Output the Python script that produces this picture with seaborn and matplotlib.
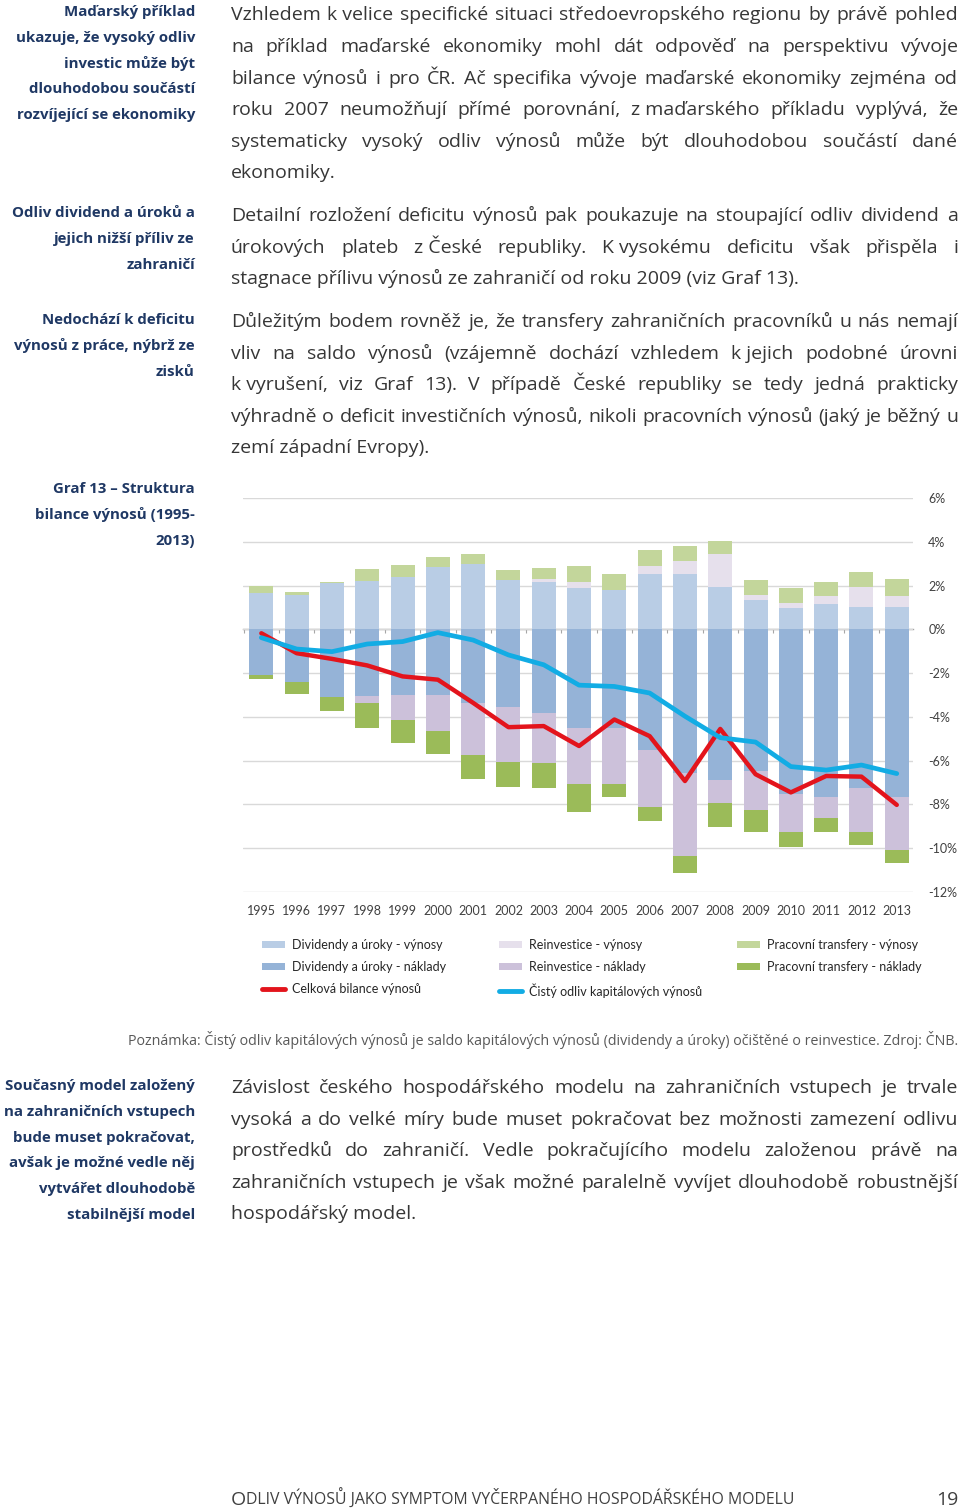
import numpy as np
import matplotlib
matplotlib.use("Agg")
import matplotlib.pyplot as plt
import seaborn as sns
from matplotlib.patches import Patch
from matplotlib.lines import Line2D

# ---- data (% of GDP) ----
years = [str(y) for y in range(1995, 2014)]
div_income = [1.66, 1.55, 2.12, 2.21, 2.41, 2.85, 3.00, 2.24, 2.16, 1.91,
              1.79, 2.53, 2.53, 1.94, 1.36, 0.98, 1.18, 1.03, 1.03]
reinv_income = [0, 0, 0, 0, 0, 0, 0, 0, 0.14, 0.25,
                0, 0.35, 0.59, 1.48, 0.20, 0.23, 0.33, 0.91, 0.48]
labor_income = [0.34, 0.15, 0.06, 0.56, 0.51, 0.47, 0.44, 0.46, 0.50, 0.72,
                0.72, 0.76, 0.67, 0.61, 0.71, 0.70, 0.64, 0.66, 0.79]
div_cost = [-2.08, -2.41, -3.09, -3.06, -3.02, -3.02, -3.36, -3.55, -3.82, -4.50,
            -4.50, -5.52, -6.55, -6.88, -6.47, -7.50, -7.64, -7.23, -7.64]
reinv_cost = [0, 0, 0, -0.30, -1.10, -1.63, -2.40, -2.50, -2.27, -2.55,
              -2.55, -2.59, -3.79, -1.07, -1.79, -1.74, -1.00, -2.04, -2.42]
labor_cost = [-0.19, -0.53, -0.62, -1.17, -1.06, -1.03, -1.09, -1.15, -1.17, -1.28,
              -0.60, -0.66, -0.78, -1.10, -0.98, -0.71, -0.60, -0.58, -0.61]
total_balance = [-0.18, -1.09, -1.35, -1.65, -2.15, -2.30, -3.36, -4.47, -4.42, -5.33,
                 -4.12, -4.88, -6.93, -4.55, -6.62, -7.45, -6.70, -6.73, -8.02]
net_capital = [-0.38, -0.90, -1.02, -0.67, -0.56, -0.15, -0.49, -1.17, -1.62, -2.55,
               -2.61, -2.91, -3.97, -4.95, -5.15, -6.27, -6.43, -6.20, -6.59]
y_ticks = [6, 4, 2, 0, -2, -4, -6, -8, -10, -12]

labels = ["Dividendy a úroky - výnosy", "Dividendy a úroky - náklady",
          "Reinvestice - výnosy", "Reinvestice - náklady",
          "Pracovní transfery - výnosy", "Pracovní transfery - náklady",
          "Celková bilance výnosů", "Čistý odliv kapitálových výnosů"]
colors = ["#B9CDE5", "#95B3D7", "#E6E0EC", "#CCC1DA", "#C3D69B", "#9BBB59",
          "#E3141C", "#12ACE4"]

# ---- page text ----
side_blocks = [
    (["Maďarský příklad", "ukazuje, že vysoký odliv", "investic může být",
      "dlouhodobou součástí", "rozvíjející se ekonomiky"], 16),
    (["Odliv dividend a úroků a", "jejich nižší příliv ze", "zahraničí"], 217),
    (["Nedochází k deficitu", "výnosů z práce, nýbrž ze", "zisků"], 324),
    (["Graf 13 – Struktura", "bilance výnosů (1995-", "2013)"], 493),
    (["Současný model založený", "na zahraničních vstupech", "bude muset pokračovat,",
      "avšak je možné vedle něj", "vytvářet dlouhodobě", "stabilnější model"], 1090),
]
body_blocks = [
    (["Vzhledem k\u00a0velice specifické situaci středoevropského regionu by právě pohled",
      "na příklad maďarské ekonomiky mohl dát odpověď na perspektivu vývoje",
      "bilance výnosů i pro ČR. Ač specifika vývoje maďarské ekonomiky zejména od",
      "roku 2007 neumožňují přímé porovnání, z\u00a0maďarského příkladu vyplývá, že",
      "systematicky vysoký odliv výnosů může být dlouhodobou součástí dané",
      "ekonomiky."], 20.5),
    (["Detailní rozložení deficitu výnosů pak poukazuje na stoupající odliv dividend a",
      "úrokových plateb z\u00a0České republiky. K\u00a0vysokému deficitu však přispěla i",
      "stagnace přílivu výnosů ze zahraničí od roku 2009 (viz Graf 13)."], 221),
    (["Důležitým bodem rovněž je, že transfery zahraničních pracovníků u nás nemají",
      "vliv na saldo výnosů (vzájemně dochází vzhledem k\u00a0jejich podobné úrovni",
      "k\u00a0vyrušení, viz Graf 13). V případě České republiky se tedy jedná prakticky",
      "výhradně o deficit investičních výnosů, nikoli pracovních výnosů (jaký je běžný u",
      "zemí západní Evropy)."], 327),
    (["Závislost českého hospodářského modelu na zahraničních vstupech je trvale",
      "vysoká a do velké míry bude muset pokračovat bez možnosti zamezení odlivu",
      "prostředků do zahraničí. Vedle pokračujícího modelu založenou právě na",
      "zahraničních vstupech je však možné paralelně vyvíjet dlouhodobě robustnější",
      "hospodářský model."], 1093),
]
note = ("Poznámka: Čistý odliv kapitálových výnosů je saldo kapitálových výnosů "
        "(dividendy a úroky) očištěné o reinvestice. Zdroj: ČNB.")

sns.set_style("white")
plt.rcParams["font.family"] = ["Lato", "DejaVu Sans"]
page_font = ["Open Sans", "DejaVu Sans"]

W, H = 960, 1508
fig = plt.figure(figsize=(W / 100, H / 100), dpi=100)
renderer = fig.canvas.get_renderer()


def fx(x):
    return x / W


def fy(y):
    return 1 - y / H


BODY = dict(fontsize=14, color="#363636", family=page_font)
SIDE = dict(fontsize=10.8, color="#1F3864", fontweight="bold", family=page_font)

for lines, y0 in side_blocks:
    for i, line in enumerate(lines):
        fig.text(fx(195), fy(y0 + i * 25.8), line, ha="right", va="baseline", **SIDE)

# justified body text
x_left, x_right = 231, 958
for lines, y0 in body_blocks:
    for i, line in enumerate(lines):
        yb = fy(y0 + i * 31.6)
        if i == len(lines) - 1:
            fig.text(fx(x_left), yb, line, ha="left", va="baseline", **BODY)
            continue
        words = line.split(" ")
        objs = [fig.text(0, yb, w, ha="left", va="baseline", **BODY) for w in words]
        widths = [o.get_window_extent(renderer).width for o in objs]
        gap = (x_right - x_left - sum(widths)) / (len(words) - 1)
        x = x_left
        for o, w in zip(objs, widths):
            o.set_x(fx(x))
            x += w + gap

fig.text(fx(958), fy(1045), note, ha="right", va="baseline", fontsize=10.3,
         color="#595959", family=page_font)

# footer in small caps
big = fig.text(fx(231), fy(1505), "O", ha="left", va="baseline", fontsize=14,
               color="#404040", family=page_font)
bw = big.get_window_extent(renderer).width
fig.text(fx(231 + bw), fy(1505), "DLIV VÝNOSŮ JAKO SYMPTOM VYČERPANÉHO HOSPODÁŘSKÉHO MODELU",
         ha="left", va="baseline", fontsize=11.4, color="#404040", family=page_font)
fig.text(fx(958), fy(1505), "19", ha="right", va="baseline", fontsize=14,
         color="#404040", family=page_font)

# ---- chart ----
ax = fig.add_axes([fx(243), fy(892), (913 - 243) / W, (892 - 498) / H])

pos_layers = np.cumsum([div_income, reinv_income, labor_income], axis=0)
neg_layers = np.cumsum([div_cost, reinv_cost, labor_cost], axis=0)
# draw outermost cumulative layer first so the inner ones sit on top
for k in [2, 1, 0]:
    sns.barplot(x=years, y=pos_layers[k], color=colors[2 * k], saturation=1,
                width=0.68, linewidth=0, ax=ax, zorder=2)
    sns.barplot(x=years, y=neg_layers[k], color=colors[2 * k + 1], saturation=1,
                width=0.68, linewidth=0, ax=ax, zorder=2)

sns.lineplot(x=years, y=total_balance, color=colors[6], linewidth=3.2, ax=ax,
             zorder=4, sort=False)
sns.lineplot(x=years, y=net_capital, color=colors[7], linewidth=3.4, ax=ax,
             zorder=5, sort=False)

ax.set_xlim(-0.52, 18.46)
ax.set_ylim(-12, 6)
ax.set_yticks(y_ticks)
ax.set_yticklabels([f"{v}%" for v in y_ticks])
ax.yaxis.tick_right()
ax.grid(axis="y", color="#D9D9D9", linewidth=1)
ax.set_axisbelow(True)
for s in ax.spines.values():
    s.set_visible(False)
ax.tick_params(axis="y", length=0, pad=11, labelsize=9, labelcolor="#404040")
ax.tick_params(axis="x", length=0, pad=9, labelsize=9, labelcolor="#404040")
ax.set_xlabel("")
ax.set_ylabel("")

# zero axis with category separators
zero = ax.secondary_xaxis(12 / 18)
zero.set_xticks(np.arange(-0.5, 19, 1))
zero.tick_params(direction="in", length=3, color="#A6A6A6", labeltop=False, labelbottom=False)
zero.spines["top"].set_color("#A6A6A6")
zero.spines["top"].set_linewidth(1)

# legend in three columns
handles = [Patch(facecolor=c, edgecolor="none") for c in colors[:6]]
handles += [Line2D([], [], color=c, linewidth=3.5, solid_capstyle="round") for c in colors[6:]]
cols = [([0, 1, 6], 262), ([2, 3, 7], 499), ([4, 5], 737)]
for idx, xl in cols:
    fig.legend([handles[i] for i in idx], [labels[i] for i in idx],
               loc="upper left", bbox_to_anchor=(fx(xl), fy(939)), frameon=False,
               fontsize=9, labelcolor="#262626", handlelength=1.8, handleheight=0.55,
               handletextpad=0.6, labelspacing=0.8, borderpad=0, borderaxespad=0)

fig.savefig("out.png", dpi=100)
